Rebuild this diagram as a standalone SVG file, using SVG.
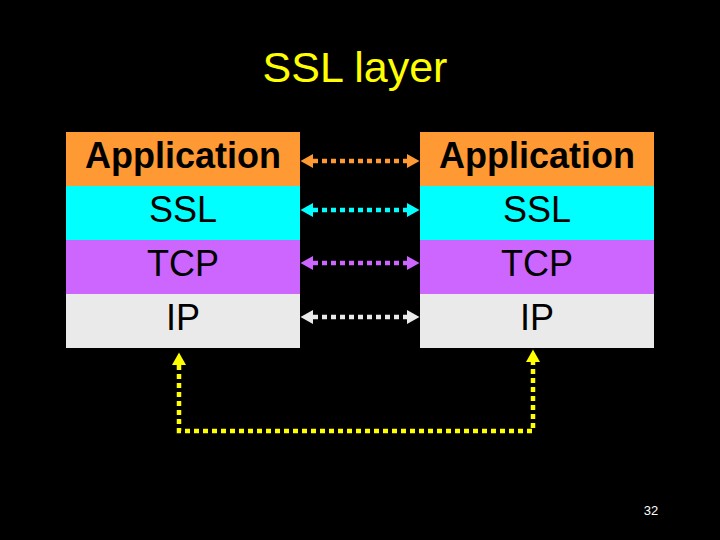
<svg xmlns="http://www.w3.org/2000/svg" width="720" height="540" viewBox="0 0 720 540">
<style>
.lbl{font-family:"Liberation Sans",Arial,sans-serif;font-size:36px;fill:#000;text-anchor:middle}
.b{font-weight:bold}
.conn{fill:none;stroke-width:4.5;stroke-dasharray:5 4}
</style>
<defs>
<marker id="mO" markerUnits="userSpaceOnUse" markerWidth="13" markerHeight="16" refX="0" refY="8" orient="auto-start-reverse" viewBox="0 0 13 16"><path d="M0,1 L12.5,8 L0,15 Z" fill="#FF9933"/></marker>
<marker id="mC" markerUnits="userSpaceOnUse" markerWidth="13" markerHeight="16" refX="0" refY="8" orient="auto-start-reverse" viewBox="0 0 13 16"><path d="M0,1 L12.5,8 L0,15 Z" fill="#00FFFF"/></marker>
<marker id="mP" markerUnits="userSpaceOnUse" markerWidth="13" markerHeight="16" refX="0" refY="8" orient="auto-start-reverse" viewBox="0 0 13 16"><path d="M0,1 L12.5,8 L0,15 Z" fill="#CC66FF"/></marker>
<marker id="mW" markerUnits="userSpaceOnUse" markerWidth="13" markerHeight="16" refX="0" refY="8" orient="auto-start-reverse" viewBox="0 0 13 16"><path d="M0,1 L12.5,8 L0,15 Z" fill="#EAEAEA"/></marker>
<marker id="mY" markerUnits="userSpaceOnUse" markerWidth="13" markerHeight="16" refX="0" refY="8" orient="auto-start-reverse" viewBox="0 0 13 16"><path d="M0,1 L12.5,8 L0,15 Z" fill="#FFFF00"/></marker>
</defs>
<rect width="720" height="540" fill="#000"/>
<text x="355" y="82" font-family="'Liberation Sans',Arial,sans-serif" font-size="43" fill="#FFFF00" text-anchor="middle">SSL layer</text>
<g id="left-stack">
<rect x="66" y="132" width="234" height="54" fill="#FF9933"/>
<rect x="66" y="186" width="234" height="54" fill="#00FFFF"/>
<rect x="66" y="240" width="234" height="54" fill="#CC66FF"/>
<rect x="66" y="294" width="234" height="54" fill="#EAEAEA"/>
<text class="lbl b" x="183" y="168">Application</text>
<text class="lbl" x="183" y="222">SSL</text>
<text class="lbl" x="183" y="276">TCP</text>
<text class="lbl" x="183" y="330">IP</text>
</g>
<g id="right-stack">
<rect x="420" y="132" width="234" height="54" fill="#FF9933"/>
<rect x="420" y="186" width="234" height="54" fill="#00FFFF"/>
<rect x="420" y="240" width="234" height="54" fill="#CC66FF"/>
<rect x="420" y="294" width="234" height="54" fill="#EAEAEA"/>
<text class="lbl b" x="537" y="168">Application</text>
<text class="lbl" x="537" y="222">SSL</text>
<text class="lbl" x="537" y="276">TCP</text>
<text class="lbl" x="537" y="330">IP</text>
</g>
<g id="connectors">
<path class="conn" d="M313,161 H407" stroke="#FF9933" marker-start="url(#mO)" marker-end="url(#mO)"/>
<path class="conn" d="M313,210 H407" stroke="#00FFFF" marker-start="url(#mC)" marker-end="url(#mC)"/>
<path class="conn" d="M313,263 H407" stroke="#CC66FF" marker-start="url(#mP)" marker-end="url(#mP)"/>
<path class="conn" d="M313,317 H407" stroke="#EAEAEA" marker-start="url(#mW)" marker-end="url(#mW)"/>
<path class="conn" d="M179,365 V431 H533 V362" stroke="#FFFF00" marker-start="url(#mY)" marker-end="url(#mY)"/>
</g>
<text x="651" y="515" font-family="'Liberation Sans',Arial,sans-serif" font-size="13" fill="#FFFFFF" text-anchor="middle">32</text>
</svg>
